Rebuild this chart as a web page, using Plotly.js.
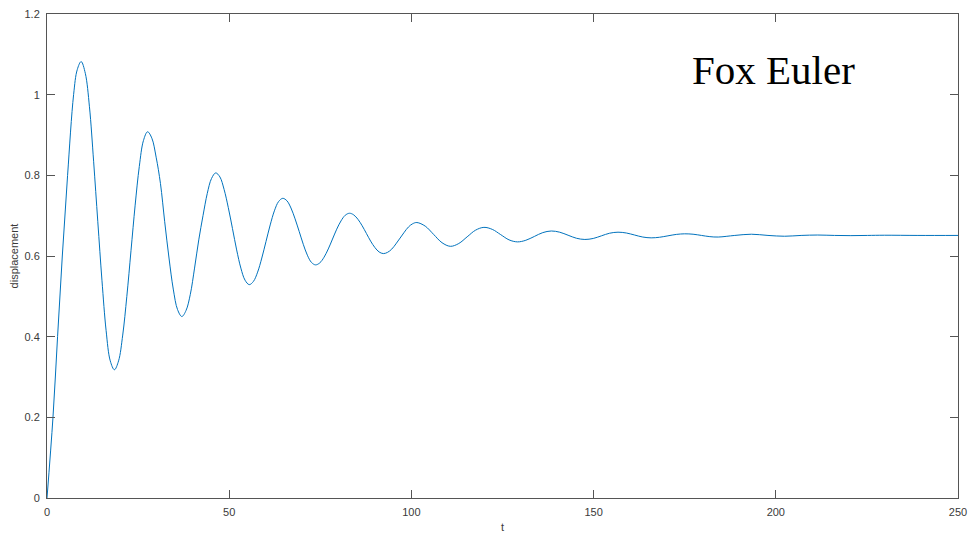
<!DOCTYPE html>
<html>
<head>
<meta charset="utf-8">
<script src="https://cdn.plot.ly/plotly-3.0.1.min.js"></script>
<style>
  html, body { margin: 0; padding: 0; background: #fff; }
  #plot { width: 974px; height: 540px; }
</style>
</head>
<body>
<div id="plot"></div>
<script>
// Damped response of the system, integrated with the Euler method
const timeValues = [
  0, 1.64, 2.9, 4.2, 5.65, 7.3, 8.3, 9.37,
  10.51, 11.65, 12.79, 13.94, 15.08, 16.22, 17.36, 18.5,
  19.64, 20.78, 21.91, 23.05, 24.19, 25.33, 26.46, 27.6,
  28.78, 29.95, 31.13, 32.3, 33.48, 34.65, 35.83, 37.0,
  38.16, 39.33, 40.49, 41.65, 42.81, 43.98, 45.14, 46.3,
  47.45, 48.6, 49.75, 50.9, 52.05, 53.2, 54.35, 55.5,
  56.65, 57.8, 58.95, 60.1, 61.25, 62.4, 63.55, 64.7,
  65.83, 66.95, 68.08, 69.2, 70.33, 71.45, 72.58, 73.7,
  74.86, 76.03, 77.19, 78.35, 79.51, 80.68, 81.84, 83.0,
  84.16, 85.33, 86.49, 87.65, 88.81, 89.98, 91.14, 92.3,
  93.45, 94.6, 95.75, 96.9, 98.05, 99.2, 100.35, 101.5,
  103.8, 106.1, 108.4, 110.7,
  113.0, 115.3, 117.6, 119.9,
  122.2, 124.5, 126.8, 129.1,
  131.4, 133.75, 136.05, 138.4,
  140.7, 143.0, 145.3, 147.6,
  149.9, 152.15, 154.4, 156.7,
  159.0, 161.25, 163.5, 165.8,
  168.1, 170.4, 172.7, 175.0,
  177.3, 179.6, 181.9, 184.2,
  188.75, 193.3, 197.85, 202.4,
  206.95, 211.5, 216.1, 220.6,
  225.2, 229.8, 239.0, 250
];
const displacementValues = [
  0, 0.2, 0.4, 0.6, 0.8, 1.0, 1.062, 1.082,
  1.053, 0.970, 0.835, 0.685, 0.540, 0.415, 0.340, 0.318,
  0.340, 0.404, 0.500, 0.613, 0.726, 0.822, 0.886, 0.908,
  0.892, 0.845, 0.780, 0.685, 0.595, 0.518, 0.467, 0.450,
  0.465, 0.505, 0.570, 0.640, 0.700, 0.755, 0.792, 0.806,
  0.796, 0.765, 0.720, 0.668, 0.615, 0.570, 0.540, 0.529,
  0.537, 0.560, 0.595, 0.636, 0.677, 0.712, 0.735, 0.743,
  0.737, 0.719, 0.692, 0.661, 0.629, 0.602, 0.584, 0.578,
  0.583, 0.597, 0.6175, 0.642, 0.6665, 0.687, 0.701, 0.706,
  0.702, 0.691, 0.675, 0.656, 0.637, 0.621, 0.610, 0.606,
  0.609, 0.617, 0.630, 0.6445, 0.659, 0.672, 0.680, 0.683,
  0.674, 0.6535, 0.633, 0.624,
  0.631, 0.6475, 0.664, 0.671,
  0.666, 0.653, 0.640, 0.635,
  0.639, 0.6485, 0.658, 0.662,
  0.659, 0.6515, 0.644, 0.641,
  0.6435, 0.650, 0.6565, 0.659,
  0.657, 0.652, 0.647, 0.645,
  0.6465, 0.650, 0.6535, 0.655,
  0.654, 0.651, 0.648, 0.647,
  0.651, 0.654, 0.651, 0.649,
  0.651, 0.652, 0.651, 0.6505,
  0.651, 0.6515, 0.651, 0.651
];

const xTicks = [0, 50, 100, 150, 200, 250];
const yTicks = [0, 0.2, 0.4, 0.6, 0.8, 1, 1.2];
const yTickText = ['0', '0.2', '0.4', '0.6', '0.8', '1', '1.2'];

const axisColor = '#555555';
const labelFont = { family: 'Liberation Sans, Arial, sans-serif', size: 11, color: '#3a3a3a' };

const trace = {
  x: timeValues,
  y: displacementValues,
  type: 'scatter',
  mode: 'lines',
  line: { color: '#0072BD', width: 1, shape: 'spline', smoothing: 1 },
  hoverinfo: 'x+y'
};

const layout = {
  width: 974,
  height: 540,
  margin: { l: 46.5, r: 16, t: 14, b: 41.5 },
  paper_bgcolor: '#ffffff',
  plot_bgcolor: '#ffffff',
  showlegend: false,
  xaxis: {
    range: [0, 250],
    tickvals: xTicks,
    ticktext: xTicks.map(String),
    ticks: 'inside',
    ticklen: 8,
    tickcolor: axisColor,
    showline: true,
    linecolor: axisColor,
    linewidth: 1,
    mirror: 'allticks',
    showgrid: false,
    zeroline: false,
    tickfont: labelFont,
    ticklabelstandoff: 4,
    title: { text: 't', font: labelFont, standoff: 6 }
  },
  yaxis: {
    range: [0, 1.2],
    tickvals: yTicks,
    ticktext: yTickText,
    ticks: 'inside',
    ticklen: 8,
    tickcolor: axisColor,
    showline: true,
    linecolor: axisColor,
    linewidth: 1,
    mirror: 'allticks',
    showgrid: false,
    zeroline: false,
    tickfont: labelFont,
    ticklabelstandoff: 4,
    title: { text: 'displacement', font: labelFont, standoff: 3 }
  },
  annotations: [{
    xref: 'paper', yref: 'paper',
    x: 0.798, y: 0.884,
    xanchor: 'center', yanchor: 'middle',
    text: 'Fox Euler',
    showarrow: false,
    font: { family: 'Liberation Serif, Times New Roman, serif', size: 41, color: '#000000' }
  }]
};

Plotly.newPlot('plot', [trace], layout, { displayModeBar: false, staticPlot: true });
</script>
</body>
</html>
